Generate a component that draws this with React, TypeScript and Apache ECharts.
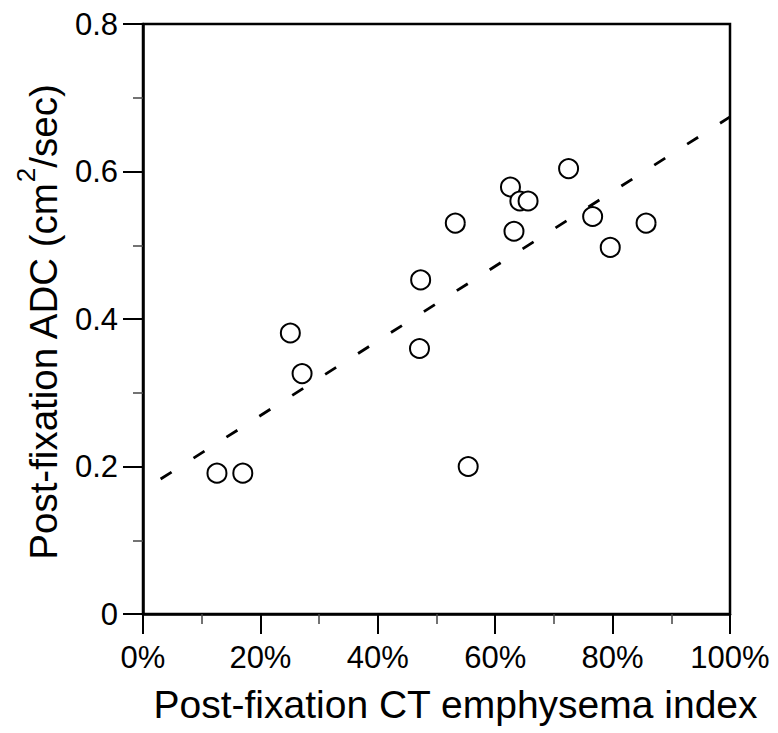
import React, { useEffect, useRef } from "react";
import * as echarts from "echarts";

// Post-fixation CT emphysema index (%) vs post-fixation ADC (cm^2/sec)
const emphysemaIndex = [12.6, 17.0, 25.1, 27.1, 47.1, 47.3, 53.2, 55.4, 62.6, 63.2, 64.2, 65.6, 72.5, 76.6, 79.6, 85.7];
const adcValues = [0.191, 0.191, 0.381, 0.326, 0.360, 0.453, 0.530, 0.200, 0.579, 0.519, 0.560, 0.560, 0.604, 0.539, 0.497, 0.530];

// Regression line endpoints (x %, y)
const fitX = [3, 100];
const fitY = [0.183, 0.674];

const xTicks = [0, 20, 40, 60, 80, 100];
const yTicks = [0, 0.2, 0.4, 0.6, 0.8];

const FONT = "'Liberation Sans', Arial, Helvetica, sans-serif";

export default function App() {
  const ref = useRef<HTMLDivElement>(null);

  useEffect(() => {
    if (!ref.current) return;
    const chart = echarts.init(ref.current, null, { renderer: "svg" });
    const points = emphysemaIndex.map((x, i) => [x, adcValues[i]]);
    const fit = fitX.map((x, i) => [x, fitY[i]]);

    chart.setOption({
      animation: false,
      backgroundColor: "#fff",
      grid: {
        left: 143,
        right: 48,
        top: 24,
        bottom: 119,
        show: true,
        borderColor: "#000",
        borderWidth: 2.5,
        backgroundColor: "transparent",
      },
      xAxis: {
        type: "value",
        min: xTicks[0],
        max: xTicks[xTicks.length - 1],
        interval: 20,
        name: "Post-fixation CT emphysema index",
        nameLocation: "middle",
        nameGap: 71,
        nameTextStyle: {
          fontFamily: FONT,
          fontSize: 39,
          color: "#000",
          padding: [0, 0, 0, 38],
        },
        axisLine: { show: true, lineStyle: { color: "#000", width: 2.5 } },
        axisTick: { show: true, inside: false, length: 20, lineStyle: { color: "#000", width: 2 } },
        minorTick: { show: true, splitNumber: 2, length: 10, lineStyle: { color: "#444", width: 1.5 } },
        axisLabel: {
          formatter: "{value}%",
          fontFamily: FONT,
          fontSize: 31,
          color: "#000",
          margin: 28,
        },
        splitLine: { show: false },
        minorSplitLine: { show: false },
      },
      yAxis: {
        type: "value",
        min: yTicks[0],
        max: yTicks[yTicks.length - 1],
        interval: 0.2,
        name: "{a|Post-fixation ADC (cm}{s|2}{a|/sec)}",
        nameLocation: "middle",
        nameGap: 70,
        nameRotate: 90,
        nameTextStyle: {
          color: "#000",
          padding: [0, 7, 0, 0],
          rich: {
            a: { fontFamily: FONT, fontSize: 38.5, lineHeight: 60, color: "#000" },
            s: { fontFamily: FONT, fontSize: 26, lineHeight: 15, verticalAlign: "top", color: "#000" },
          },
        },
        axisLine: { show: true, lineStyle: { color: "#000", width: 2.5 } },
        axisTick: { show: true, inside: false, length: 20, lineStyle: { color: "#000", width: 2 } },
        minorTick: { show: true, splitNumber: 2, length: 10, lineStyle: { color: "#444", width: 1.5 } },
        axisLabel: {
          fontFamily: FONT,
          fontSize: 31,
          color: "#000",
          margin: 25,
        },
        splitLine: { show: false },
        minorSplitLine: { show: false },
      },
      series: [
        {
          type: "line",
          data: fit,
          symbol: "none",
          z: 2,
          lineStyle: { color: "#000", width: 2.8, type: [13, 26] },
        },
        {
          type: "scatter",
          data: points,
          symbol: "circle",
          symbolSize: 19,
          z: 3,
          itemStyle: { color: "#fff", borderColor: "#000", borderWidth: 2, opacity: 1 },
        },
      ],
    });
    return () => chart.dispose();
  }, []);

  return (
    <div
      ref={ref}
      style={{ position: "absolute", left: 0, top: 0, width: 778, height: 733 }}
    />
  );
}
